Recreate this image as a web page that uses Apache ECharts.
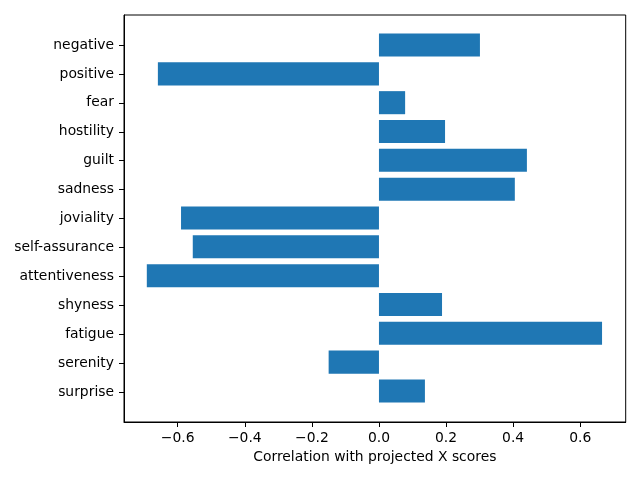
<!DOCTYPE html>
<html>
<head>
<meta charset="utf-8">
<script src="https://cdn.jsdelivr.net/npm/echarts@6.0.0/dist/echarts.min.js"></script>
<style>
  html, body { margin: 0; padding: 0; background: #fff; }
  #chart { width: 640px; height: 480px; }
</style>
</head>
<body>
<div id="chart"></div>
<script>
// categories listed bottom to top (category axis starts at the bottom)
const categories = [
  "surprise", "serenity", "fatigue", "shyness", "attentiveness",
  "self-assurance", "joviality", "sadness", "guilt", "hostility",
  "fear", "positive", "negative"
];
const correlations = [
  0.137, -0.150, 0.665, 0.188, -0.692,
  -0.555, -0.590, 0.405, 0.441, 0.197,
  0.078, -0.659, 0.301
];
const xTicks = [-0.6, -0.4, -0.2, 0.0, 0.2, 0.4, 0.6];
const xName = "Correlation with projected X scores";

const X_MIN = -0.760;
const X_MAX = 0.7355;
// matplotlib style y limits: bars at 0..n-1, height 0.8, 5% margin
const Y_MIN = -1.04;
const Y_MAX = categories.length - 1 + 1.04;
const FONT = "DejaVu Sans";
const TXT = 13.89;

const yTicks = categories.map((_, i) => i);

function fmt(v) {
  return v.toFixed(1).replace("-", "\u2212");
}

const chart = echarts.init(document.getElementById("chart"), null, { renderer: "canvas" });

const option = {
  animation: false,
  backgroundColor: "#fff",
  textStyle: { fontFamily: FONT },
  grid: [
    // bar grid: bands inset like matplotlib's 5% margins
    { left: 124, right: 14.3, top: 30.6, bottom: 74.6, containLabel: false },
    // frame grid: the spines, ticks and labels
    { left: 124, right: 14.3, top: 15, bottom: 58, containLabel: false,
      show: true, borderColor: "#000", borderWidth: 1, backgroundColor: "transparent" }
  ],
  xAxis: [
    { gridIndex: 0, type: "value", min: X_MIN, max: X_MAX, show: false },
    {
      gridIndex: 1, type: "value", min: X_MIN, max: X_MAX,
      name: xName, nameLocation: "middle", nameGap: 28,
      nameTextStyle: { fontFamily: FONT, fontSize: TXT, color: "#000" },
      axisLine: { show: true, onZero: false, lineStyle: { color: "#000", width: 1 } },
      axisTick: { show: true, length: 5, customValues: xTicks, lineStyle: { color: "#000", width: 1 } },
      axisLabel: { customValues: xTicks, margin: 9.5, fontFamily: FONT, fontSize: TXT, color: "#000", formatter: fmt },
      splitLine: { show: false }
    }
  ],
  yAxis: [
    { gridIndex: 0, type: "category", data: categories, show: false },
    {
      gridIndex: 1, type: "value", min: Y_MIN, max: Y_MAX, position: "left",
      axisLine: { show: true, onZero: false, lineStyle: { color: "#000", width: 1 } },
      axisTick: { show: true, length: 5, customValues: yTicks, lineStyle: { color: "#000", width: 1 } },
      axisLabel: {
        customValues: yTicks, margin: 10, fontFamily: FONT, fontSize: TXT, color: "#000",
        formatter: (v) => categories[Math.round(v)]
      },
      splitLine: { show: false }
    }
  ],
  series: [
    {
      type: "bar",
      xAxisIndex: 0, yAxisIndex: 0,
      data: correlations,
      barWidth: "80%",
      itemStyle: { color: "#1f77b4" }
    }
  ]
};

chart.setOption(option);
</script>
</body>
</html>
